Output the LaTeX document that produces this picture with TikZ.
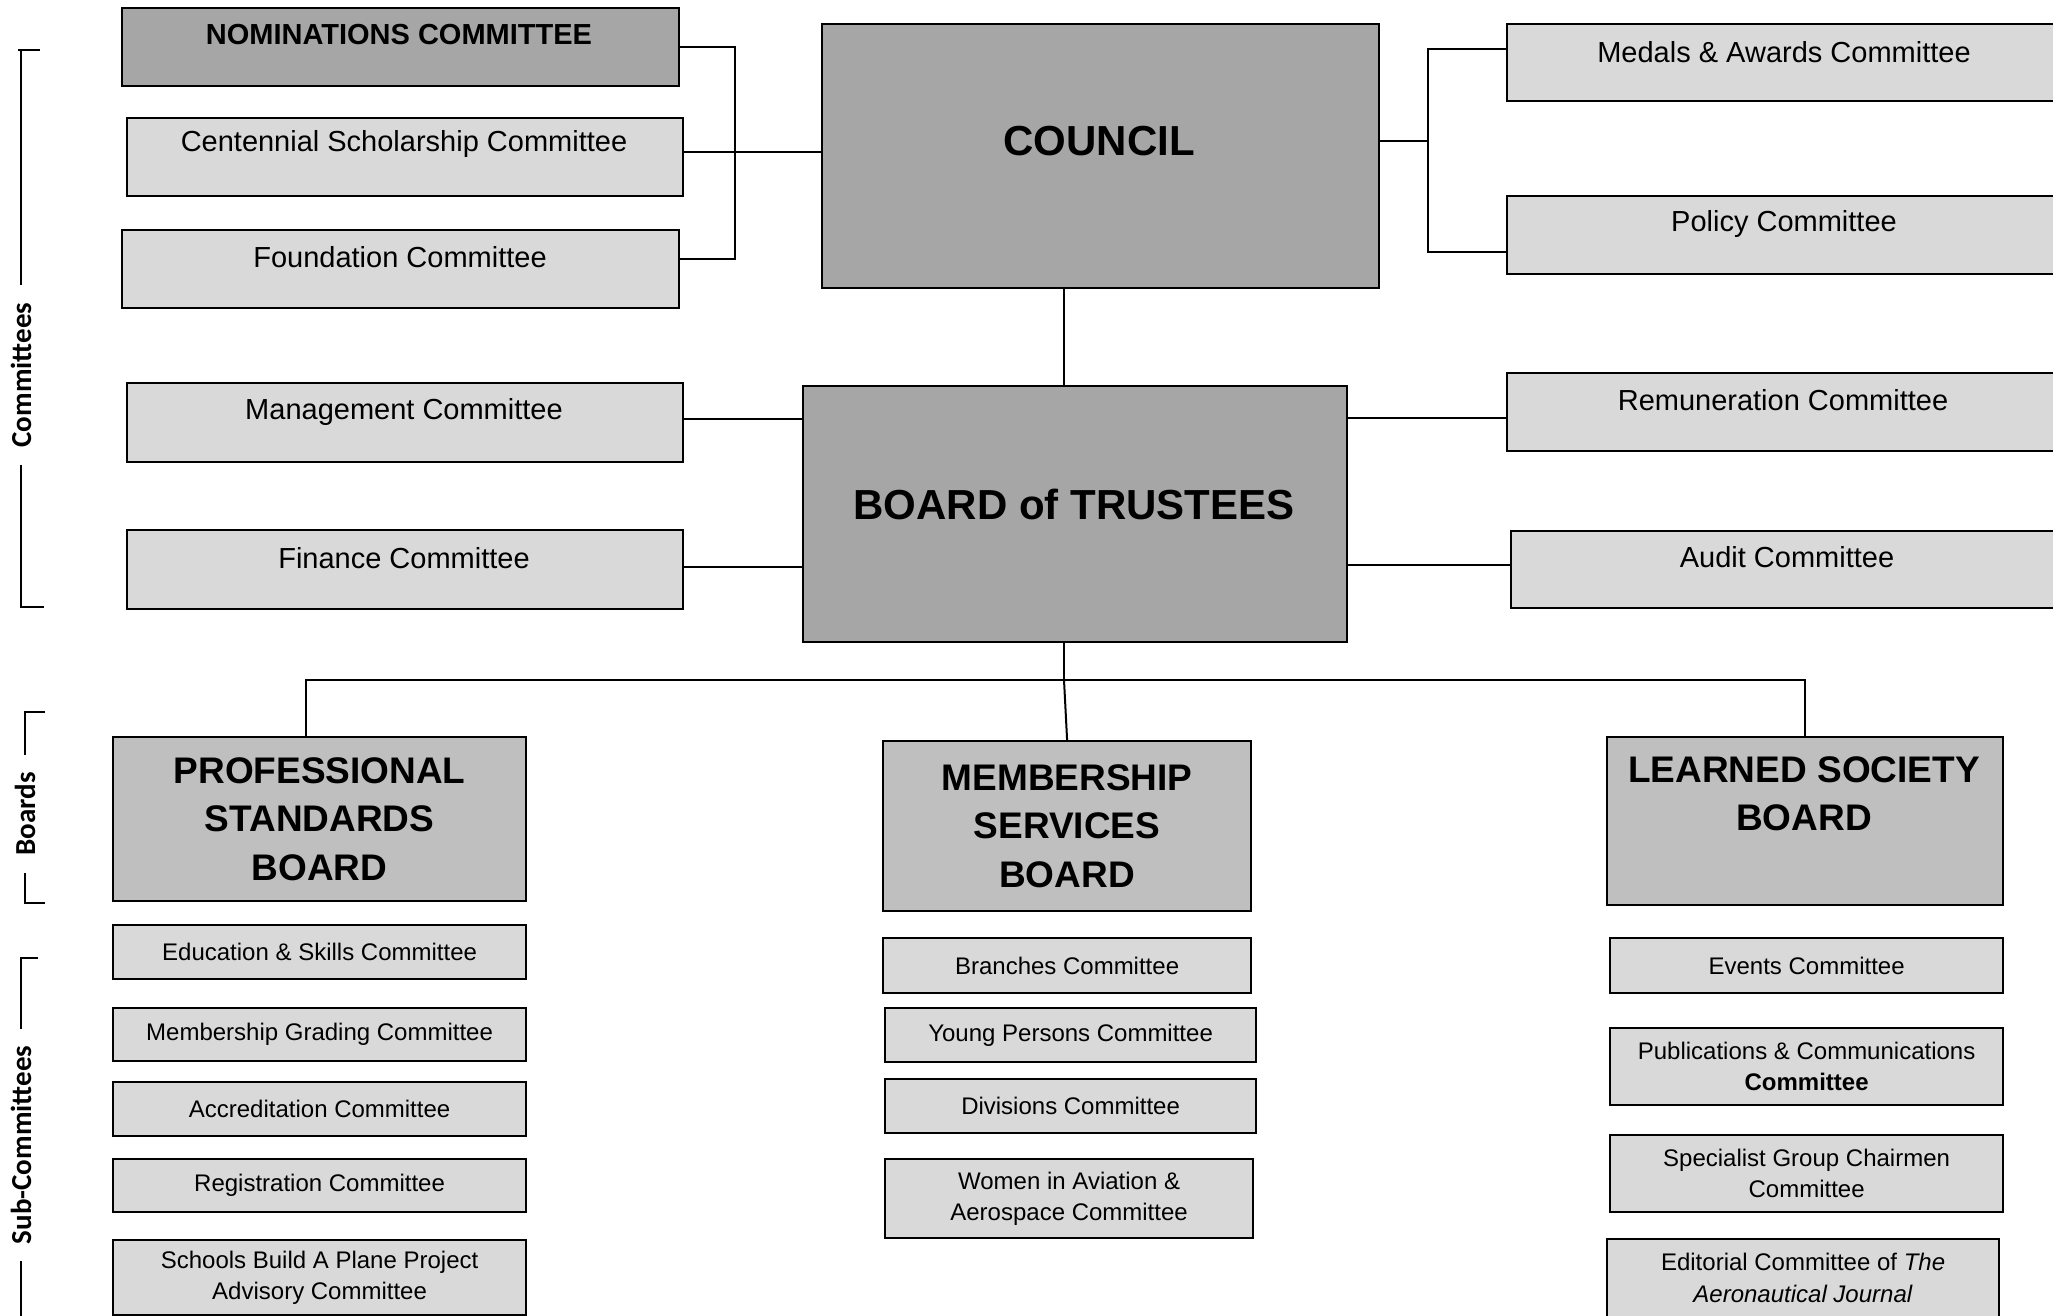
\documentclass[tikz,border=0pt]{standalone}
\usepackage{fontspec}
\setmainfont{Liberation Sans}
\newfontfamily\sidefont{Carlito}
\usepackage{xcolor}

\definecolor{topgray}{HTML}{A6A6A6}
\definecolor{boardgray}{HTML}{BFBFBF}
\definecolor{cteegray}{HTML}{D9D9D9}

\tikzset{
  box/.style={draw, line width=2.2pt, anchor=north west, inner sep=0pt, align=center},
  topbox/.style={box, fill=topgray},
  boardbox/.style={box, fill=boardgray},
  cbox/.style={box, fill=cteegray},
  size/.style 2 args={minimum width=#1pt, minimum height=#2pt},
  link/.style={line width=2pt},
  bigtxt/.style={font=\fontsize{42}{48}\selectfont\bfseries},
  boardtxt/.style={font=\fontsize{37}{48.5}\selectfont\bfseries},
  midtxt/.style={font=\fontsize{29}{34}\selectfont},
  smalltxt/.style={font=\fontsize{24}{31.5}\selectfont},
  side/.style={rotate=90, font=\sidefont\bfseries\fontsize{29}{30}\selectfont,
    inner xsep=17pt, inner ysep=0pt}
}

\begin{document}
\begin{tikzpicture}[x=1pt, y=-1pt]
    \useasboundingbox (0,0) rectangle (2053,1316);
    \clip (0,0) rectangle (2053,1316);
    \fill[white] (0,0) rectangle (2053,1316);

    % Council and Board of Trustees
    \node[topbox, size={557}{264}] (council) at (821,23) {};
    \node[bigtxt] (councilt) at (1099,141) {COUNCIL};
    \node[topbox, size={544}{256}] (bot) at (802,385) {};
    \node[bigtxt] (bott) at (1074,504) {BOARD of TRUSTEES};

    % Committees, left side
    \node[topbox, size={557}{78}] (nom) at (121,7) {};
    \node[midtxt] (nomt) at (399,35) {\textbf{NOMINATIONS COMMITTEE}};
    \node[cbox, size={556}{78}] (cen) at (126,117) {};
    \node[midtxt] (cent) at (404,144) {Centennial Scholarship Committee};
    \node[cbox, size={557}{78}] (fou) at (121,229) {};
    \node[midtxt] (fout) at (400,257) {Foundation Committee};
    \node[cbox, size={556}{79}] (man) at (126,382) {};
    \node[midtxt] (mant) at (404,412) {Management Committee};
    \node[cbox, size={556}{79}] (fin) at (126,529) {};
    \node[midtxt] (fint) at (404,558) {Finance Committee};

    % Committees, right side (run off the page)
    \node[cbox, size={620}{77}] (med) at (1506,23) {};
    \node[midtxt] (medt) at (1784,52) {Medals \& Awards Committee};
    \node[cbox, size={620}{78}] (pol) at (1506,195) {};
    \node[midtxt] (polt) at (1784,224) {Policy Committee};
    \node[cbox, size={620}{78}] (rem) at (1506,372) {};
    \node[midtxt] (remt) at (1783,400) {Remuneration Committee};
    \node[cbox, size={620}{77}] (aud) at (1510,530) {};
    \node[midtxt] (audt) at (1787,557) {Audit Committee};

    % Boards
    \node[boardbox, size={413}{164}, boardtxt] (psb) at (112,736) {PROFESSIONAL\\STANDARDS\\BOARD};
    \node[boardbox, size={368}{170}, boardtxt] (msb) at (882,740) {MEMBERSHIP\\SERVICES\\BOARD};
    \node[boardbox, size={396}{168}] (lsb) at (1606,736) {};
    \node[boardtxt, align=center] (lsbt) at (1804,794) {LEARNED SOCIETY\\BOARD};

    % Sub-committees
    \node[cbox, size={413}{54}, smalltxt] (edu) at (112,924) {Education \& Skills Committee};
    \node[cbox, size={413}{53}, smalltxt] (mgr) at (112,1007) {Membership Grading Committee};
    \node[cbox, size={413}{54}, smalltxt] (acc) at (112,1081) {Accreditation Committee};
    \node[cbox, size={413}{53}, smalltxt] (reg) at (112,1158) {Registration Committee};
    \node[cbox, size={413}{75}, smalltxt] (sch) at (112,1239) {Schools Build A Plane Project\\Advisory Committee};

    \node[cbox, size={368}{55}, smalltxt] (bra) at (882,937) {Branches Committee};
    \node[cbox, size={371}{54}, smalltxt] (yng) at (884,1007) {Young Persons Committee};
    \node[cbox, size={371}{54}, smalltxt] (div) at (884,1078) {Divisions Committee};
    \node[cbox, size={368}{79}, smalltxt] (wom) at (884,1158) {Women in Aviation \&\\Aerospace Committee};

    \node[cbox, size={393}{55}, smalltxt] (evt) at (1609,937) {Events Committee};
    \node[cbox, size={393}{77}, smalltxt] (pub) at (1609,1027) {Publications \& Communications\\\textbf{Committee}};
    \node[cbox, size={393}{77}, smalltxt] (spe) at (1609,1134) {Specialist Group Chairmen\\Committee};
    \node[cbox, size={392}{78}, smalltxt] (edi) at (1606,1238) {Editorial Committee of \textit{The}\\\textit{Aeronautical Journal}};

    % Links to Council
    \coordinate (lbx) at (735,150);
    \coordinate (rbx) at (1428,150);
    \draw[link] (nom.east) -| (lbx) |- ([yshift=10pt]fou.east);
    \coordinate (cenl) at ([yshift=5pt]cen.east);
    \draw[link] (cenl) -- (cenl -| council.west);
    \draw[link] ([yshift=14pt]med.west) -| (rbx) |- ([yshift=-17pt]pol.west);
    \coordinate (counr) at ([yshift=15pt]council.east);
    \draw[link] (counr) -- (counr -| rbx);

    % Links to Board of Trustees
    \coordinate (bus) at (1064,680);
    \draw[link] (council.south -| bus) -- (bot.north -| bus);
    \coordinate (manl) at ([yshift=4pt]man.east);
    \draw[link] (manl) -- (manl -| bot.west);
    \coordinate (finl) at ([yshift=3pt]fin.east);
    \draw[link] (finl) -- (finl -| bot.west);
    \coordinate (reml) at ([yshift=-6pt]rem.west);
    \draw[link] (reml) -- (reml -| bot.east);
    \coordinate (audl) at ([yshift=5pt]aud.west);
    \draw[link] (audl) -- (audl -| bot.east);

    % Boards below
    \draw[link] (bot.south -| bus) -- (bus);
    \draw[link] ([xshift=-14pt]psb.north) |- (bus) -| (lsb.north);
    \draw[link] (bus) -- (msb.north);

    % Side brackets
    \node[side] (lcom) at (21,375) {Committees};
    \draw[link] (40,50) -- (18,50);
    \draw[link] (21,50) -- (lcom.east);
    \draw[link] (lcom.west) -- (21,607) -- (44,607);

    \node[side] (lbrd) at (25,814) {Boards};
    \draw[link] (45,712) -- (25,712) -- (lbrd.east);
    \draw[link] (lbrd.west) -- (25,903) -- (45,903);

    \node[side] (lsub) at (21,1145) {Sub-Committees};
    \draw[link] (38,958) -- (21,958) -- (lsub.east);
    \draw[link] (lsub.west) -- (21,1316);
\end{tikzpicture}
\end{document}
